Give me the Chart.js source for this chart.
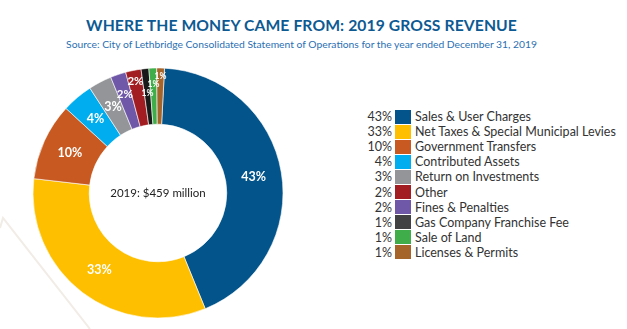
<!DOCTYPE html>
<html lang="en">
<head>
  <meta charset="UTF-8">
  <title>Where the Money Came From: 2019 Gross Revenue</title>
  <script src="https://cdn.jsdelivr.net/npm/chart.js"></script>
  <style>
    body { margin: 0; width: 627px; height: 329px; background: #fff; font-family: Lato, "Open Sans", sans-serif; position: relative; overflow: hidden; }
    #title { position: absolute; left: 0; width: 603px; top: 16px; text-align: center; font-weight: 700; font-size: 15.7px; color: #0d5a93; letter-spacing: 0.1px; }
    #subtitle { position: absolute; left: 0; width: 603px; top: 38px; text-align: center; font-size: 10.3px; color: #2a70b3; }
    #deco { position: absolute; left: 0; top: 0; }
    #chartBox { position: absolute; left: 0; top: 60px; width: 316px; height: 266px; }
    #legend { position: absolute; left: 350px; top: 109px; }
    .row { display: flex; align-items: center; height: 15.1px; font-size: 12.5px; color: #333; }
    .pct { width: 42px; text-align: right; }
    .box { width: 16px; height: 14px; margin: 0 4px 0 3px; }
  </style>
</head>
<body>
  <svg id="deco" width="120" height="329">
    <polyline points="0,228 3,218 90,329" fill="none" stroke="#f1ece6" stroke-width="2"/>
  </svg>
  <div id="title">WHERE THE MONEY CAME FROM: 2019 GROSS REVENUE</div>
  <div id="subtitle">Source: City of Lethbridge Consolidated Statement of Operations for the year ended December 31, 2019</div>
  <div id="chartBox"><canvas id="myChart"></canvas></div>
  <div id="legend"></div>

  <script>
    // slices, clockwise from the top (order as drawn in the ring)
    const categories = ['Sales & User Charges', 'Net Taxes & Special Municipal Levies', 'Government Transfers',
      'Contributed Assets', 'Return on Investments', 'Fines & Penalties', 'Other',
      'Gas Company Franchise Fee', 'Sale of Land', 'Licenses & Permits'];
    const shares = [43, 33, 10, 4, 3, 2, 2, 1, 1, 1];
    const colors = ['#03548a', '#fdbf00', '#c85a21', '#00adef', '#939598', '#6f58a7', '#a11d21',
      '#1a1a1a', '#3fad49', '#a5642a'];
    // legend order differs from ring order
    const legendOrder = ['Sales & User Charges', 'Net Taxes & Special Municipal Levies', 'Government Transfers',
      'Contributed Assets', 'Return on Investments', 'Other', 'Fines & Penalties',
      'Gas Company Franchise Fee', 'Sale of Land', 'Licenses & Permits'];
    const centerText = '2019: $459 million';

    // build legend
    const legend = document.getElementById('legend');
    legendOrder.forEach(name => {
      const i = categories.indexOf(name);
      const row = document.createElement('div');
      row.className = 'row';
      const boxColor = name === 'Gas Company Franchise Fee' ? '#414042' : colors[i];
      row.innerHTML = '<span class="pct">' + shares[i] + '%</span><span class="box" style="background:' + boxColor + '"></span><span>' + name + '</span>';
      legend.appendChild(row);
    });

    // white % labels on the ring + center text
    const sliceLabels = {
      id: 'sliceLabels',
      afterDatasetsDraw(chart) {
        const ctx = chart.ctx;
        const arcs = chart.getDatasetMeta(0).data;
        let k = 0;
        const lift = [7, 17, 3, 12, 20];
        ctx.save();
        ctx.textAlign = 'center';
        ctx.textBaseline = 'middle';
        ctx.fillStyle = '#fff';
        arcs.forEach((arc, i) => {
          const p = arc.getProps(['x', 'y', 'startAngle', 'endAngle', 'innerRadius', 'outerRadius'], true);
          const mid = (p.startAngle + p.endAngle) / 2;
          let r = (p.innerRadius + p.outerRadius) / 2;
          let size = 12.5;
          if (shares[i] <= 2) {
            r += lift[k % lift.length];
            size = shares[i] === 1 ? 8.5 : 11.5;
            k++;
          }
          ctx.font = 'bold ' + size + 'px Lato, "Open Sans", sans-serif';
          ctx.fillText(shares[i] + '%', p.x + Math.cos(mid) * r, p.y + Math.sin(mid) * r);
        });
        const c = arcs[0];
        ctx.fillStyle = '#222';
        ctx.font = '11.5px Lato, "Open Sans", sans-serif';
        ctx.fillText(centerText, c.x, c.y);
        ctx.restore();
      }
    };

    new Chart(document.getElementById('myChart'), {
      type: 'doughnut',
      data: {
        labels: categories,
        datasets: [{
          data: shares,
          backgroundColor: colors,
          borderColor: '#fff',
          borderWidth: 0.6
        }]
      },
      options: {
        responsive: true,
        maintainAspectRatio: false,
        animation: false,
        rotation: 3,
        radius: 125,
        cutout: 73,
        layout: { padding: 0 },
        plugins: {
          legend: { display: false },
          tooltip: { enabled: false }
        }
      },
      plugins: [sliceLabels]
    });
  </script>
</body>
</html>
